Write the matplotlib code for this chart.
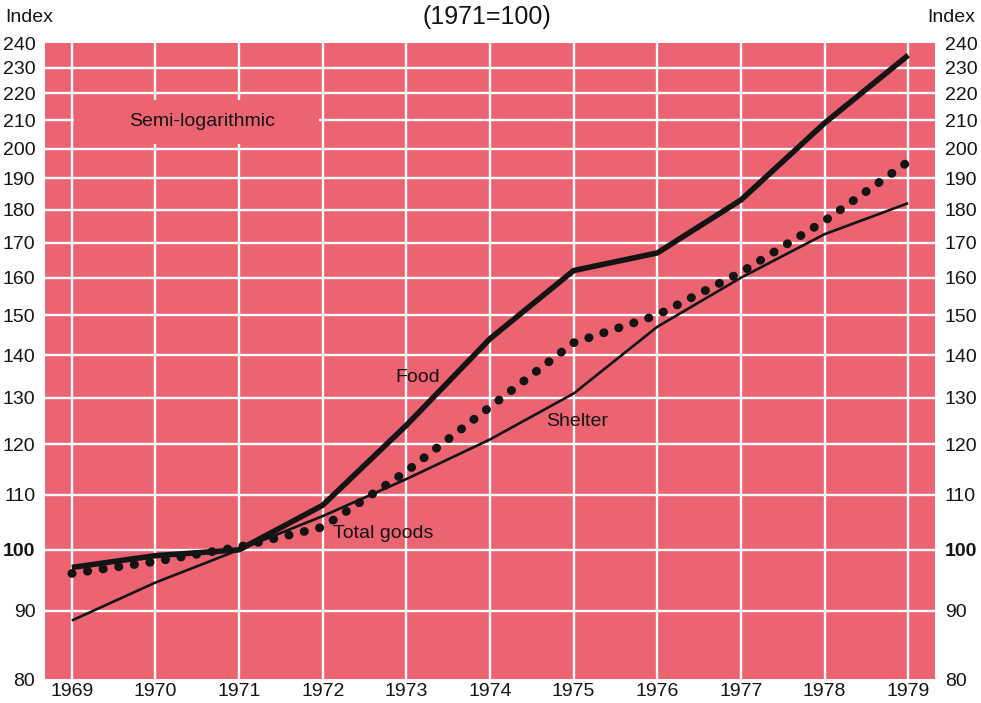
import matplotlib
matplotlib.use("Agg")
import matplotlib.pyplot as plt
from matplotlib.patches import Rectangle
from matplotlib.ticker import NullLocator

#
# Consumer prices 1969-1979, semi-log index chart (1971=100)
#

years = [1969, 1970, 1971, 1972, 1973, 1974, 1975, 1976, 1977, 1978, 1979]
food = [97, 99, 100, 108, 124, 144, 162, 167, 183, 209, 235]
shelter = [88.5, 94.5, 100, 106, 113, 121, 131, 147, 160, 172.5, 182]
total_goods = [96, 98, 100.5, 104, 114.5, 128, 143, 150, 161.5, 176.5, 195.5]

index_ticks = [80, 90, 100, 110, 120, 130, 140, 150, 160, 170, 180, 190, 200, 210, 220, 230, 240]
grid_levels = [90, 100, 110, 120, 130, 140, 150, 160, 170, 180, 190, 200, 210, 220, 230]

PINK = "#EC6372"
INK = "#141414"
FS = 14

plt.rcParams['font.family'] = ['Liberation Sans', 'DejaVu Sans']

fig = plt.figure(figsize=(9.81, 7.03), dpi=100)
ax = fig.add_axes([45/981., 1 - 679/703., 890/981., 636/703.])
ax.set_facecolor(PINK)
for s in ax.spines.values():
  s.set_visible(False)

ax.set_yscale('log')
ax.set_ylim(80, 240)
ax.set_xlim(1968.68, 1979.32)

# white grid, drawn by hand so the edges stay clean
for y in grid_levels:
  ax.axhline(y, color='white', lw=1.7, zorder=1)
for x in years:
  ax.axvline(x, color='white', lw=1.7, zorder=1)

# label patch that hides the grid behind "Semi-logarithmic"
ax.add_patch(Rectangle((1969.03, 201.5), 2.92, 16.0, facecolor=PINK, edgecolor='none', zorder=2))
ax.text(1970.56, 209.5, "Semi-logarithmic", ha='center', va='center', fontsize=FS, color=INK, zorder=3)

ax.plot(years, food, color=INK, lw=4.0, solid_capstyle='butt', solid_joinstyle='round', zorder=5)
ax.plot(years, shelter, color=INK, lw=1.9, solid_capstyle='butt', zorder=5)
ax.plot(years, total_goods, color=INK, lw=6.3, linestyle=(0, (0.05, 1.75)), dash_capstyle='round', zorder=4)

ax.text(1973.14, 134.7, "Food", ha='center', va='center', fontsize=FS, color=INK)
ax.text(1975.04, 124.9, "Shelter", ha='center', va='center', fontsize=FS, color=INK)
ax.text(1972.12, 102.9, "Total goods", ha='left', va='center', fontsize=FS, color=INK)

ax.set_xticks(years)
ax.set_xticklabels([str(y) for y in years])
ax.set_yticks(index_ticks)
ax.set_yticklabels([str(v) for v in index_ticks])
ax.yaxis.set_minor_locator(NullLocator())
ax.tick_params(axis='both', length=0, labelsize=FS, colors=INK)
ax.tick_params(axis='x', pad=3)
ax.tick_params(axis='y', labelright=True, pad=7)
for tick in ax.yaxis.get_major_ticks():
  if abs(tick.get_loc() - 100) < 1e-6:
    tick.label1.set_fontweight('bold')
    tick.label2.set_fontweight('bold')

fig.text(5/981., 1 - 17/703., "Index", ha='left', va='center', fontsize=FS, color=INK)
fig.text(975/981., 1 - 17/703., "Index", ha='right', va='center', fontsize=FS, color=INK)
fig.text(487/981., 1 - 17/703., "(1971=100)", ha='center', va='center', fontsize=18, color=INK)

plt.savefig("out.png", dpi=100)
